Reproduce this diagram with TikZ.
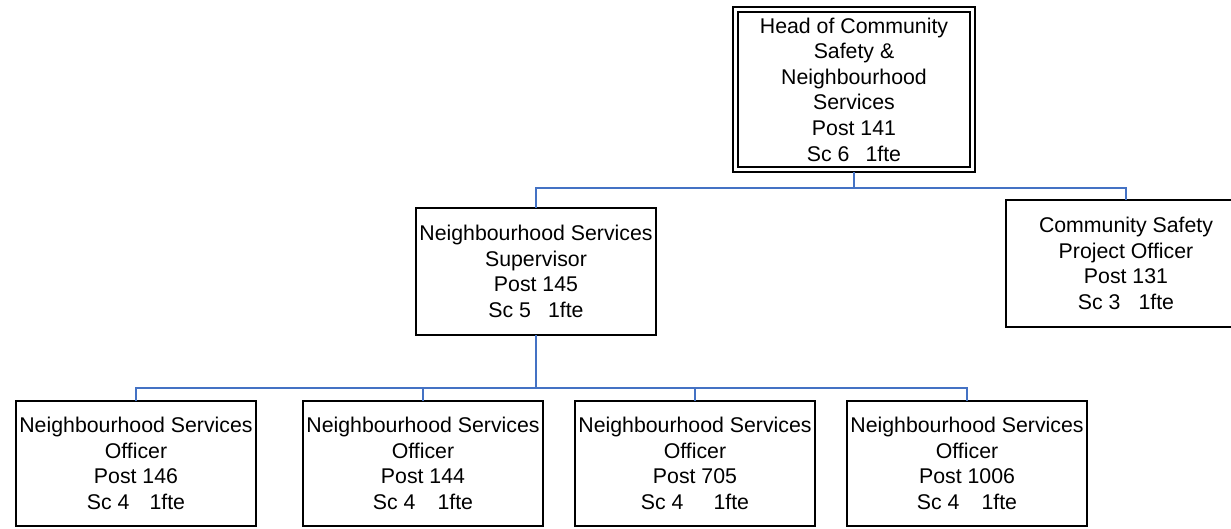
\documentclass[tikz,border=0pt]{standalone}
\usepackage{fontspec}
\setmainfont{Liberation Sans}
\definecolor{linkblue}{RGB}{68,114,196}
\tikzset{
  post/.style={draw=black, line width=2pt, fill=white, inner sep=0pt, outer sep=0pt,
    align=center, font=\fontsize{21.3}{25.6}\selectfont,
    minimum width=240pt},
  headpost/.style={post, minimum width=242pt, minimum height=165pt},
  midpost/.style={post, minimum height=127pt},
  lowpost/.style={post, minimum height=125pt},
  conn/.style={draw=linkblue, line width=1.5pt},
}
\begin{document}
\begin{tikzpicture}[x=1pt, y=-1pt]
  \clip (0,0) rectangle (1231,528);
  \fill[white] (0,0) rectangle (1231,528);

  % head of service, double frame
  \node[headpost] (head) at (854,89.5)
    {Head of Community\\Safety \&\\Neighbourhood\\Services\\Post 141\\Sc 6\hspace{16pt}1fte};
  \draw[line width=1.2pt] ([shift={(5,5)}]head.north west) rectangle ([shift={(-5,-5)}]head.south east);

  % second tier
  \node[midpost] (sup) at (536,271.5)
    {Neighbourhood Services\\Supervisor\\Post 145\\Sc 5\hspace{17pt}1fte};
  \node[midpost] (proj) at (1126,263.5)
    {Community Safety\\Project Officer\\Post 131\\Sc 3\hspace{18pt}1fte};

  % officers
  \node[lowpost] (o1) at (136,463.5)
    {Neighbourhood Services\\Officer\\Post 146\\Sc 4\hspace{20pt}1fte};
  \node[lowpost] (o2) at (423,463.5)
    {Neighbourhood Services\\Officer\\Post 144\\Sc 4\hspace{22pt}1fte};
  \node[lowpost] (o3) at (695,463.5)
    {Neighbourhood Services\\Officer\\Post 705\\Sc 4\hspace{30pt}1fte};
  \node[lowpost] (o4) at (967,463.5)
    {Neighbourhood Services\\Officer\\Post 1006\\Sc 4\hspace{22pt}1fte};

  % reporting lines
  \coordinate (j1) at (854,188);
  \coordinate (j2) at (536,388);
  \draw[conn] (head.south) -- (j1);
  \draw[conn] (j1) -| (sup.north);
  \draw[conn] (j1) -| (proj.north);
  \draw[conn] (sup.south) -- (j2);
  \draw[conn] (j2) -| (o1.north);
  \draw[conn] (j2) -| (o2.north);
  \draw[conn] (j2) -| (o3.north);
  \draw[conn] (j2) -| (o4.north);
\end{tikzpicture}
\end{document}
